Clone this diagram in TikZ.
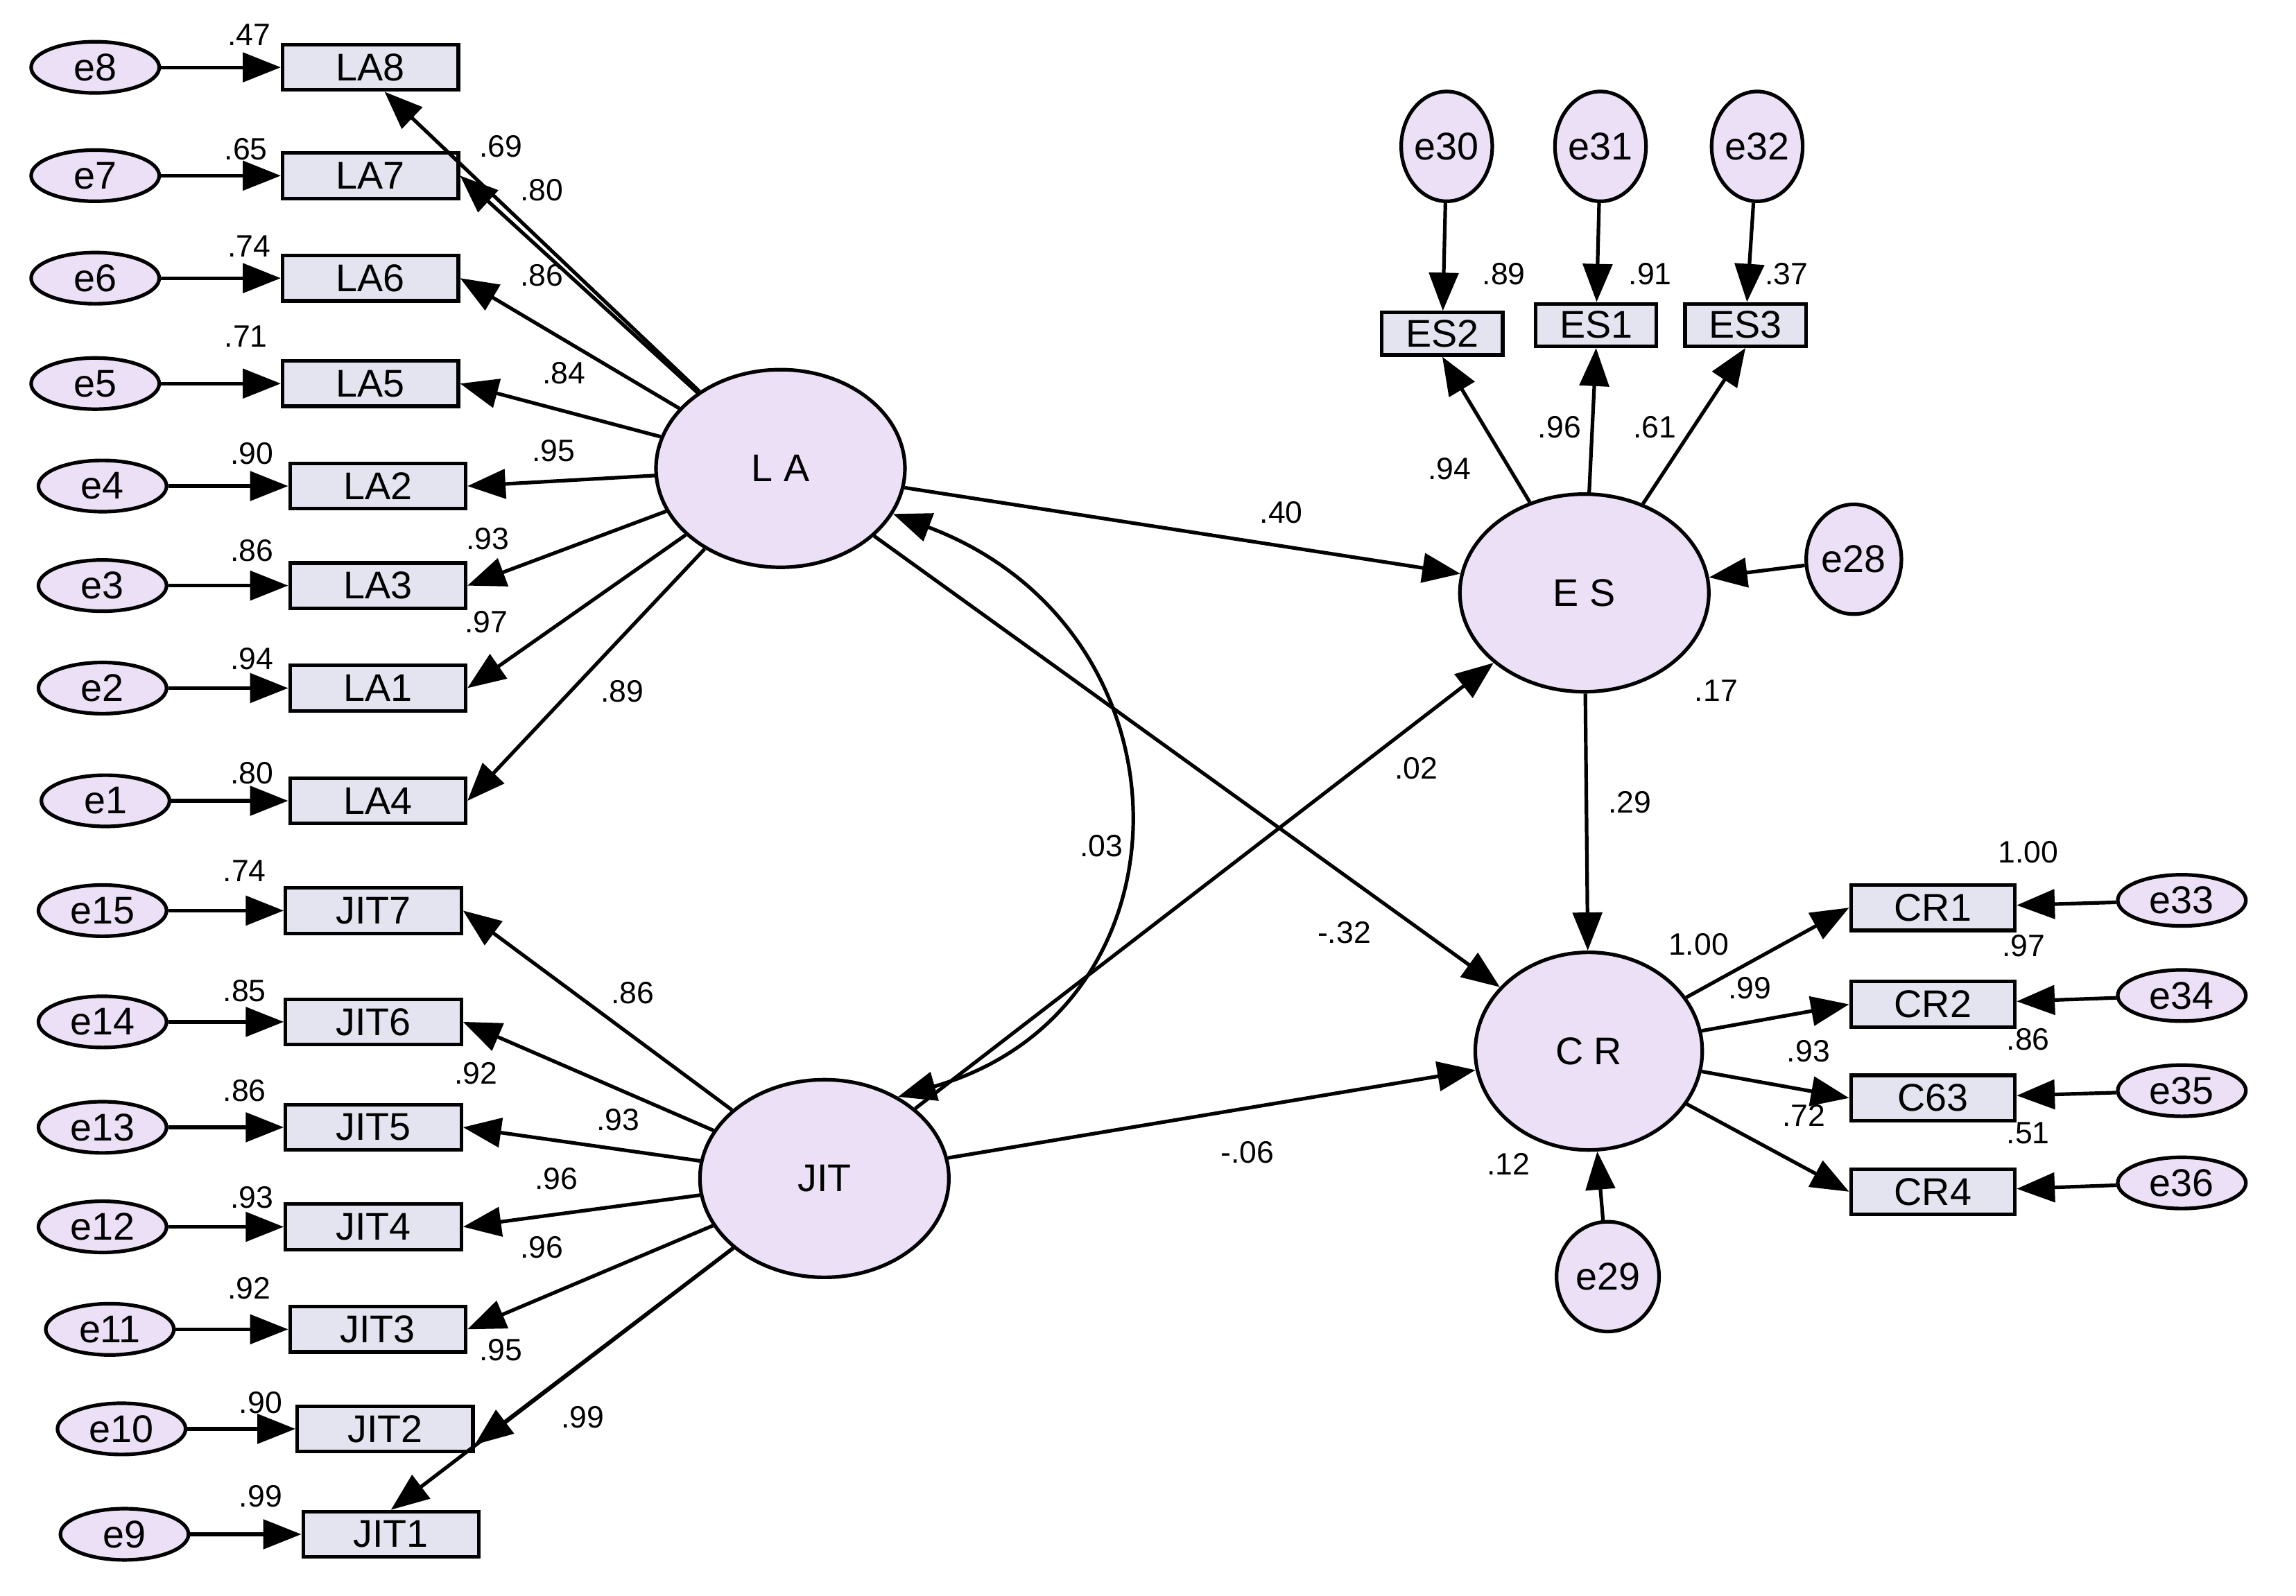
\documentclass[tikz,border=0pt]{standalone}
\usepackage{fontspec}
\setmainfont{Liberation Sans}
\usetikzlibrary{arrows.meta,shapes.geometric}
\definecolor{ellf}{RGB}{236,224,246}
\definecolor{recf}{RGB}{228,228,240}
\begin{document}
\begin{tikzpicture}[x=0.2mm,y=-0.2mm,
  obs/.style={draw,line width=1.4pt,fill=recf,minimum width=24mm,minimum height=6.2mm,inner sep=0pt,font=\fontsize{15}{15}\selectfont},
  obss/.style={obs,minimum width=16.5mm,minimum height=5.8mm},
  err/.style={draw,ellipse,line width=1.4pt,fill=ellf,minimum width=17.5mm,minimum height=7mm,inner sep=0pt,font=\fontsize{15}{15}\selectfont},
  errv/.style={err,minimum width=12mm,minimum height=15mm},
  lat/.style={draw,ellipse,line width=1.4pt,fill=ellf,minimum width=34mm,minimum height=27mm,font=\fontsize{15}{15}\selectfont},
  arr/.style={-{Triangle[length=5.2mm,width=4mm]},line width=1.4pt},
  darr/.style={{Triangle[length=5.2mm,width=4mm]}-{Triangle[length=5.2mm,width=4mm]},line width=1.4pt},
  lb/.style={font=\fontsize{12}{12}\selectfont,inner sep=0pt}]
\useasboundingbox (0,0) rectangle (1568,1090);
% latent
\node[lat] (LA) at (533,320) {L A};
\node[lat] (JIT) at (563,805) {JIT};
\node[lat] (ES) at (1082,405) {E S};
\node[lat,minimum width=31mm] (CR) at (1085,718) {C R};
% indicators
\foreach \n/\x/\y in {LA8/253/46,LA7/253/120,LA6/253/190,LA5/253/262,LA2/258/332,LA3/258/400,LA1/258/470,LA4/258/547,JIT7/255/622,JIT6/255/698,JIT5/255/770,JIT4/255/838,JIT3/258/908,JIT2/263/976,JIT1/267/1048}{
  \node[obs] (\n) at (\x,\y) {\n};
}
\foreach \e/\x/\y/\t in {e8/65/46/LA8,e7/65/120/LA7,e6/65/190/LA6,e5/65/262/LA5,e4/70/332/LA2,e3/70/400/LA3,e2/70/470/LA1,e1/72/547/LA4,e15/70/622/JIT7,e14/70/698/JIT6,e13/70/770/JIT5,e12/70/838/JIT4,e11/75/908/JIT3,e10/83/976/JIT2,e9/85/1048/JIT1}{
  \node[err] (\e) at (\x,\y) {\e};
  \draw[arr] (\e) -- (\t);
}
\draw[arr] (LA) -- (LA8.-60);
\foreach \t in {LA7,LA6,LA5,LA2,LA3,LA1,LA4}{\draw[arr] (LA) -- (\t.east);}
\foreach \t in {JIT7,JIT6,JIT5,JIT4,JIT3}{\draw[arr] (JIT) -- (\t.east);}
\draw[arr] (JIT) -- (JIT2.-10);
\draw[arr] (JIT) -- (JIT1.north);
% ES
\node[obss] (ES2) at (985,228) {ES2};
\node[obss] (ES1) at (1090,222) {ES1};
\node[obss] (ES3) at (1192,222) {ES3};
\node[errv] (e30) at (988,100) {e30};
\node[errv] (e31) at (1093,100) {e31};
\node[errv] (e32) at (1200,100) {e32};
\foreach \e/\t in {e30/ES2,e31/ES1,e32/ES3}{\draw[arr] (\e) -- (\t);}
\foreach \t in {ES2,ES1,ES3}{\draw[arr] (ES) -- (\t.south);}
\node[errv,minimum width=13mm] (e28) at (1266,382) {e28};
\draw[arr] (e28) -- (ES);
\node[errv,minimum width=14mm] (e29) at (1098,872) {e29};
\draw[arr] (e29) -- (CR);
% CR
\foreach \n/\y/\e/\ey in {CR1/620/e33/615,CR2/686/e34/680,C63/750/e35/745,CR4/814/e36/808}{
  \node[obs,minimum width=22.4mm] (\n) at (1320,\y) {\n};
  \node[err] (\e) at (1490,\ey) {\e};
  \draw[arr] (\e) -- (\n);
  \draw[arr] (CR) -- (\n.west);
}
% structural
\draw[arr] (LA) -- (ES);
\draw[arr] (LA) -- (CR);
\draw[arr] (JIT) -- (ES);
\draw[arr] (JIT) -- (CR);
\draw[arr] (ES) -- (CR);
\draw[darr] (LA.-22) .. controls (820,430) and (820,690) .. (JIT.48);
% labels
\foreach \t/\x/\y in {.47/170/24,.65/168/102,.74/170/168,.71/168/230,.90/172/310,.86/172/376,.94/172/450,.80/172/528,
 .69/342/100,.80/370/130,.86/370/188,.84/385/255,.95/378/308,.93/333/368,.97/332/425,.89/425/472,
 .74/167/595,.85/167/677,.86/167/745,.93/172/818,.92/170/880,.90/178/958,.99/178/1022,
 .86/432/678,.92/325/733,.93/422/765,.96/380/805,.96/370/852,.95/342/922,.99/398/968,
 .03/752/578,.40/875/350,.02/967/525,-.32/918/637,-.06/852/787,.29/1113/548,.17/1172/472,.12/1030/795,
 .94/990/320,.96/1065/292,.61/1130/292,.89/1027/187,.91/1127/187,.37/1220/187,
 1.00/1385/582,1.00/1160/645,.99/1195/675,.97/1382/646,.93/1235/718,.86/1385/710,.72/1232/762,.51/1385/774}{
  \node[lb] at (\x,\y) {\t};
}
\end{tikzpicture}
\end{document}
